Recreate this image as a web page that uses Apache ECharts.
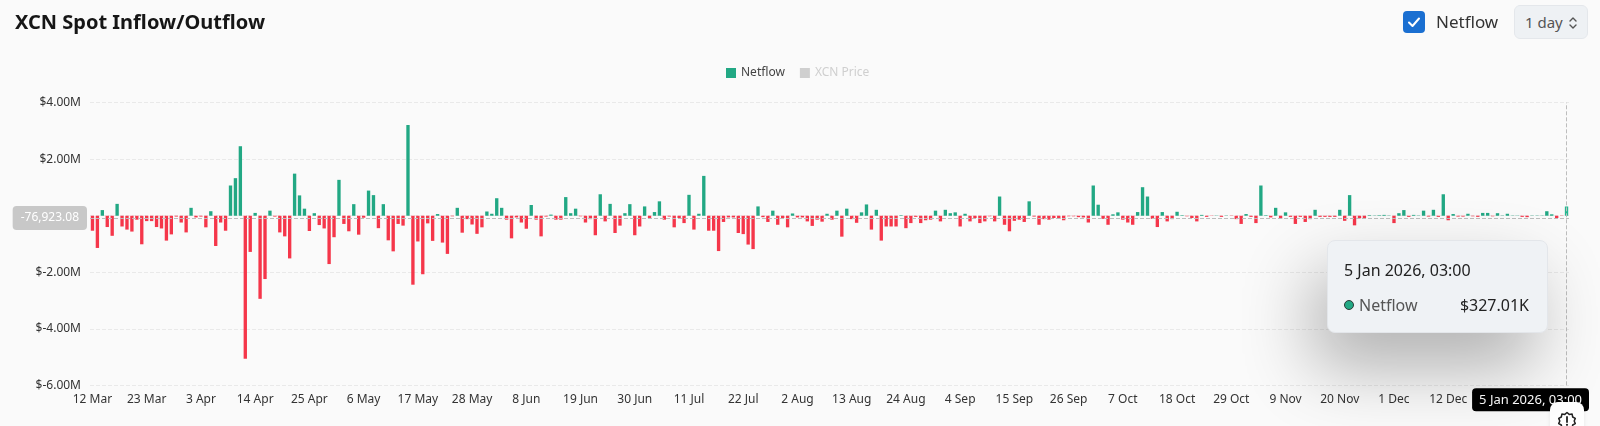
<!DOCTYPE html>
<html>
<head>
<meta charset="utf-8">
<script src="https://cdn.jsdelivr.net/npm/echarts@6/dist/echarts.min.js"></script>
<style>
  html, body { margin: 0; padding: 0; background: #fafafa; }
  #wrap { position: relative; width: 1600px; height: 426px; overflow: hidden; font-family: "Noto Sans", sans-serif; background: #fafafa; }
  #chart { position: absolute; left: 0; top: 0; width: 1589px; height: 426px; }
  .cb { position: absolute; left: 1403px; top: 11px; width: 22px; height: 22px; background: #1a6fd1; border-radius: 4px; }
  .cb svg { position: absolute; left: 3px; top: 3px; }
  .cbl { position: absolute; left: 1436px; top: 9px; font-size: 17px; color: #333; line-height: 26px; }
  .btn { position: absolute; left: 1514px; top: 5px; width: 74px; height: 34px; box-sizing: border-box; background: #eef1f4; border: 1px solid #e4e7eb; border-radius: 6px; font-size: 15px; color: #555; line-height: 32px; padding-left: 10px; }
  .btn svg { position: absolute; left: 53px; top: 9px; }
  .fb { position: absolute; left: 1550px; top: 402px; width: 34px; height: 40px; background: #fff; border-radius: 8px; box-shadow: 0 0 4px rgba(0,0,0,0.08); }
  .fb svg { position: absolute; left: 7px; top: 9px; }
</style>
</head>
<body>
<div id="wrap">
  <div id="chart"></div>
  <div class="cb"><svg width="16" height="16" viewBox="0 0 16 16"><path d="M3 8.5 L6.5 12 L13 4.5" fill="none" stroke="#fff" stroke-width="2" stroke-linecap="round" stroke-linejoin="round"/></svg></div>
  <div class="cbl">Netflow</div>
  <div class="btn">1 day<svg width="10" height="16" viewBox="0 0 10 16"><path d="M2 6 L5 3 L8 6 M2 10 L5 13 L8 10" fill="none" stroke="#555" stroke-width="1.4" stroke-linecap="round" stroke-linejoin="round"/></svg></div>
  <div class="fb"><svg width="20" height="20" viewBox="0 0 20 20"><path d="M10 1.5 L12.2 3.4 L15.1 3.1 L15.7 6 L18.3 7.4 L17.2 10 L18.3 12.6 L15.7 14 L15.1 16.9 L12.2 16.6 L10 18.5 L7.8 16.6 L4.9 16.9 L4.3 14 L1.7 12.6 L2.8 10 L1.7 7.4 L4.3 6 L4.9 3.1 L7.8 3.4 Z" fill="none" stroke="#222" stroke-width="1.5" stroke-linejoin="round"/><path d="M10 6 L10 11" stroke="#222" stroke-width="1.8" stroke-linecap="round"/><circle cx="10" cy="13.8" r="1.1" fill="#222"/></svg></div>
</div>
<script>
// ---- data ----
const startDate = [2025, 2, 12]; // 12 Mar 2025
const dayCount = 300;
const monthNames = ['Jan','Feb','Mar','Apr','May','Jun','Jul','Aug','Sep','Oct','Nov','Dec'];
const categories = [];
for (let i = 0; i < dayCount; i++) {
  const d = new Date(Date.UTC(startDate[0], startDate[1], startDate[2] + i));
  categories.push(d.getUTCDate() + ' ' + monthNames[d.getUTCMonth()] + ' ' + d.getUTCFullYear() + ', 03:00');
}
// daily netflow in millions of USD
const netflowM = [
  -0.53,-1.14,0.20,-0.40,-0.71,0.42,-0.38,-0.49,-0.56,-0.14,
  -1.01,-0.19,-0.19,-0.40,-0.45,-0.88,-0.66,-0.03,-0.24,-0.59,
  0.28,-0.06,-0.03,-0.41,0.16,-1.07,-0.24,-0.53,1.07,1.33,
  2.46,-5.06,-1.28,0.10,-2.94,-2.24,0.18,-0.03,-0.59,-0.73,
  -1.51,1.49,0.72,0.25,-0.54,0.09,-0.33,-0.45,-1.71,-0.76,
  1.27,-0.29,-0.55,0.41,-0.67,-0.07,0.89,0.73,-0.44,0.41,
  -0.87,-1.26,-0.29,-0.35,3.21,-2.44,-0.91,-2.07,-0.27,-0.89,
  0.06,-0.95,-1.35,-0.02,0.28,-0.60,-0.12,-0.31,-0.64,-0.41,
  0.15,0.07,0.62,0.28,-0.14,-0.80,-0.06,-0.24,-0.46,0.38,
  -0.14,-0.73,-0.03,0.04,-0.14,-0.14,0.66,0.09,0.25,-0.02,
  -0.24,-0.12,-0.69,0.76,-0.20,0.42,-0.61,-0.35,0.09,0.41,
  -0.69,-0.38,0.33,-0.08,0.13,0.51,-0.14,-0.03,-0.41,-0.08,
  -0.26,0.74,-0.49,0.07,1.41,-0.53,-0.53,-1.25,-0.22,-0.06,
  -0.06,-0.61,-0.65,-1.02,-1.18,0.33,-0.05,-0.22,0.18,-0.32,
  -0.08,-0.41,0.08,-0.06,-0.06,-0.20,-0.36,-0.14,-0.21,0.07,
  -0.14,0.18,-0.74,0.25,-0.12,-0.25,0.12,0.40,-0.49,0.21,
  -0.88,-0.38,-0.38,-0.38,0.02,-0.44,-0.26,-0.04,-0.26,-0.16,
  -0.14,0.18,-0.20,0.21,0.09,0.12,-0.38,0.07,-0.20,-0.08,
  -0.26,-0.20,-0.02,-0.20,0.68,-0.32,-0.55,-0.18,-0.14,-0.22,
  0.51,-0.03,-0.32,-0.12,-0.14,-0.08,-0.11,-0.16,-0.02,-0.02,
  -0.05,-0.06,-0.24,1.07,0.39,-0.11,-0.32,0.05,0.12,-0.14,
  -0.24,-0.32,0.13,1.01,0.68,-0.11,-0.40,0.13,-0.20,-0.12,
  0.14,0.02,-0.02,-0.08,-0.20,0.03,-0.04,-0.01,0.01,-0.04,
  0.01,-0.01,-0.12,-0.29,0.06,-0.04,-0.26,1.07,0.02,-0.06,
  0.28,-0.10,0.12,-0.04,-0.29,-0.04,-0.22,-0.12,0.21,-0.04,
  -0.04,-0.04,-0.04,0.21,-0.18,0.73,-0.34,-0.09,-0.09,0.02,
  0.01,0.02,0.03,0.01,-0.26,0.09,0.20,-0.04,0.03,0.01,
  0.18,-0.03,0.21,-0.04,0.76,-0.16,0.06,-0.03,-0.03,0.07,
  -0.02,-0.04,0.10,0.10,-0.02,0.09,0.01,0.07,0.01,0.01,
  -0.04,-0.05,0.01,0.01,0.01,0.16,0.05,-0.08,-0.01,0.32701
];
const priceData = []; // XCN Price series is toggled off in the legend
const yTicks = { min: -6000000, max: 4000000, interval: 2000000 };
const pointerY = -76923.08;

const GREEN = '#22a884';
const RED = '#f5364a';

function fmtMoneyShort(v) {
  const a = Math.abs(v);
  if (a >= 1e6) return '$' + (v / 1e6).toFixed(2) + 'M';
  if (a >= 1e3) return '$' + (v / 1e3).toFixed(2) + 'K';
  return '$' + v.toFixed(2);
}

const chart = echarts.init(document.getElementById('chart'));
const option = {
  animation: false,
  backgroundColor: '#fafafa',
  textStyle: { fontFamily: 'Noto Sans' },
  title: {
    text: 'XCN Spot Inflow/Outflow', left: 10, top: 8,
    textStyle: { fontSize: 20, fontWeight: 'bold', color: '#161616', fontFamily: 'Noto Sans' }
  },
  legend: {
    top: 62, left: 721, icon: 'rect', itemWidth: 10, itemHeight: 10, itemGap: 15,
    data: [{ name: 'Netflow', itemStyle: { color: GREEN } }, { name: 'XCN Price', itemStyle: { color: '#ccc' } }],
    selected: { 'XCN Price': false },
    inactiveColor: '#cfcfcf',
    textStyle: { fontSize: 12, color: '#444' }
  },
  grid: { left: 90, right: 20, top: 102.7, bottom: 40.7 },
  tooltip: {
    trigger: 'axis', triggerOn: 'none', alwaysShowContent: true,
    axisPointer: {
      type: 'cross',
      lineStyle: { color: '#bdbdbd', type: 'dashed', width: 1 },
      crossStyle: { color: '#bdbdbd', type: 'dashed', width: 1 }
    },
    position: function () { return [1327, 240]; },
    backgroundColor: '#eff2f5', borderColor: '#e3e6ea', borderWidth: 1, padding: 0,
    extraCssText: 'border-radius:8px; box-shadow: -14px 34px 70px rgba(0,0,0,0.30);',
    formatter: function (params) {
      const p = params[0];
      return '<div style="width:185px;padding:18px 18px 16px 16px;font-family:Noto Sans;">' +
        '<div style="font-size:16px;color:#222;line-height:22px;margin-bottom:13px;">' + p.name + '</div>' +
        '<div style="display:flex;justify-content:space-between;align-items:center;font-size:16px;line-height:22px;">' +
        '<span style="display:flex;align-items:center;"><span style="display:inline-block;width:8px;height:8px;border-radius:50%;background:' + GREEN + ';border:1.5px solid #2e3a37;margin-right:5px;"></span><span style="color:#555;">' + p.seriesName + '</span></span>' +
        '<span style="color:#222;">' + fmtMoneyShort(p.value) + '</span></div></div>';
    }
  },
  xAxis: {
    type: 'category', data: categories, boundaryGap: true,
    axisLine: { show: false }, axisTick: { show: false },
    axisLabel: {
      interval: 10, color: '#333', fontSize: 12, margin: 8,
      formatter: function (v) { return v.split(' ').slice(0, 2).join(' '); }
    },
    axisPointer: {
      label: { backgroundColor: '#000', color: '#fff', fontSize: 13, padding: [5, 7], borderRadius: 4, margin: 3 }
    }
  },
  yAxis: {
    type: 'value', min: yTicks.min, max: yTicks.max, interval: yTicks.interval,
    axisLine: { show: false }, axisTick: { show: false },
    axisLabel: { color: '#333', fontSize: 12, margin: 9, formatter: function (v) { return v === 0 ? '$0.00' : '$' + (v / 1e6).toFixed(2) + 'M'; } },
    splitLine: { lineStyle: { color: '#e9e9e9', type: 'dashed' } },
    axisPointer: {
      label: {
        backgroundColor: '#c8c8c8', color: '#fff', fontSize: 12, padding: [6, 8], borderRadius: 4, margin: 3,
        formatter: function (p) { return Number(p.value).toLocaleString('en-US', { minimumFractionDigits: 2, maximumFractionDigits: 2 }); }
      }
    }
  },
  series: [
    {
      name: 'Netflow', type: 'bar', barCategoryGap: '32%', color: GREEN,
      data: netflowM.map(function (m) { const v = m * 1e6; return { value: v, itemStyle: { color: v >= 0 ? GREEN : RED } }; })
    },
    { name: 'XCN Price', type: 'line', data: priceData, color: '#ccc' }
  ]
};
chart.setOption(option);
const px = chart.convertToPixel({ xAxisIndex: 0 }, categories.length - 1);
const py = chart.convertToPixel({ yAxisIndex: 0 }, pointerY);
chart.dispatchAction({ type: 'showTip', x: px, y: py });
</script>
</body>
</html>
